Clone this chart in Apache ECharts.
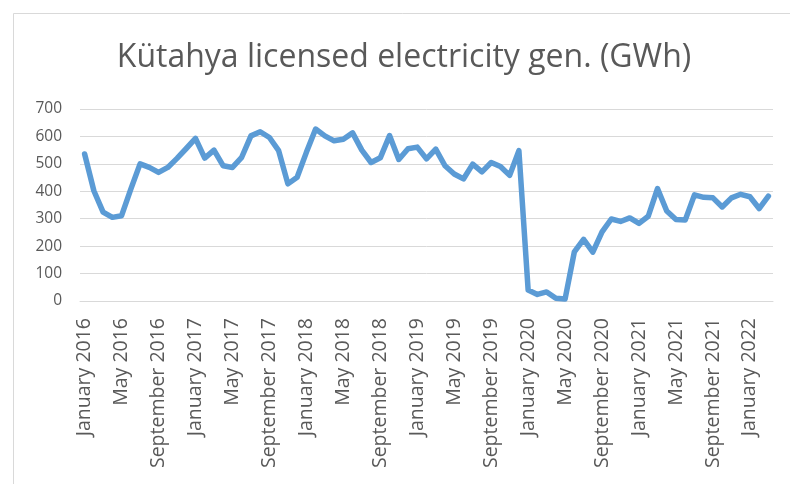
<!DOCTYPE html>
<html>
<head>
<meta charset="utf-8">
<script src="https://cdn.jsdelivr.net/npm/echarts@6/dist/echarts.min.js"></script>
<style>
html,body{margin:0;padding:0;background:#fff;}
#chart{width:790px;height:484px;}
</style>
</head>
<body>
<div id="chart"></div>
<script>
var titleText = 'Kütahya licensed electricity gen. (GWh)';
var monthNames = ['January','February','March','April','May','June','July','August','September','October','November','December'];
var startYear = 2016;
var monthCount = 75;
var categories = [];
for (var i = 0; i < monthCount; i++) {
  categories.push(monthNames[i % 12] + ' ' + (startYear + Math.floor(i / 12)));
}
var generation = [
  536, 402, 324, 305, 311, 408, 500, 487, 469, 487, 520, 556,
  593, 521, 550, 493, 487, 524, 602, 617, 596, 548, 427, 451,
  542, 627, 602, 584, 590, 613, 550, 505, 522, 603, 516, 555,
  561, 518, 554, 493, 463, 445, 499, 471, 505, 490, 458, 548,
  40, 24, 33, 10, 7, 179, 225, 178, 252, 299, 290, 303,
  283, 309, 410, 328, 297, 295, 387, 378, 376, 343, 376, 389,
  380, 337, 382
];
var yTicks = { min: 0, max: 700, interval: 100 };

var chart = echarts.init(document.getElementById('chart'), null, {renderer: 'canvas'});
chart.setOption({
  backgroundColor: '#fff',
  animation: false,
  graphic: [{
    type: 'rect',
    shape: {x: 13.5, y: 13.5, width: 820, height: 520},
    style: {fill: 'none', stroke: '#d9d9d9', lineWidth: 1},
    silent: true
  }, {
    type: 'text',
    x: 404,
    y: 58,
    style: {
      text: titleText,
      align: 'center',
      verticalAlign: 'middle',
      fontFamily: 'Open Sans',
      fontSize: 32,
      fill: '#595959'
    },
    silent: true
  }],
  grid: {left: 80, right: 17, top: 109, bottom: 183, containLabel: false},
  xAxis: {
    type: 'category',
    data: categories,
    boundaryGap: true,
    axisLine: {show: true, lineStyle: {color: '#d9d9d9', width: 1}},
    axisTick: {show: false},
    axisLabel: {
      interval: 3,
      rotate: 90,
      margin: 17,
      fontFamily: 'Open Sans',
      fontSize: 19.5,
      color: '#595959'
    },
    splitLine: {show: false}
  },
  yAxis: {
    type: 'value',
    min: yTicks.min,
    max: yTicks.max,
    interval: yTicks.interval,
    axisLine: {show: false},
    axisTick: {show: false},
    axisLabel: {fontFamily: 'Open Sans', fontSize: 15.5, color: '#595959', margin: 18},
    splitLine: {lineStyle: {color: '#d9d9d9', width: 1}}
  },
  series: [{
    type: 'line',
    data: generation,
    showSymbol: false,
    symbol: 'none',
    lineStyle: {color: '#5b9bd5', width: 5.5, join: 'round', cap: 'round'},
    itemStyle: {color: '#5b9bd5'}
  }]
});
</script>
</body>
</html>
